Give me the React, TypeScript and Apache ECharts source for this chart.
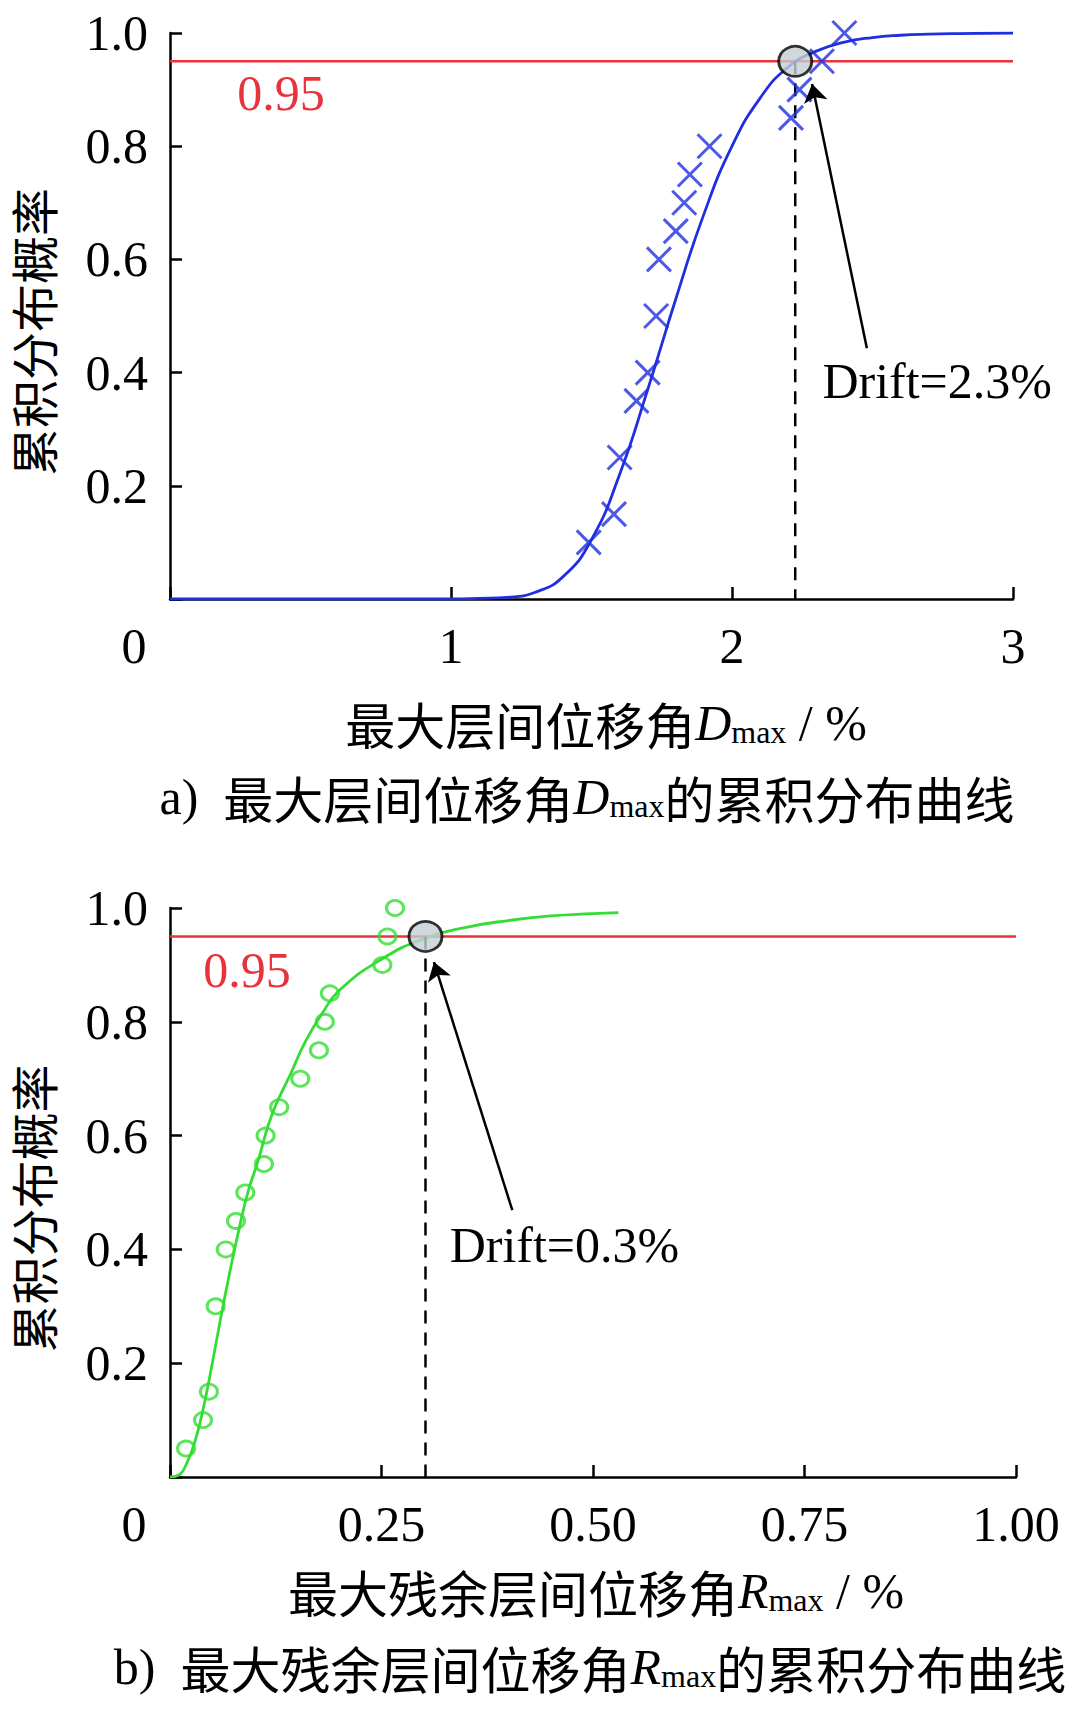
import React, { useEffect, useRef } from 'react';
import * as echarts from 'echarts';

// ---------- data ----------
// panel a: maximum inter-storey drift D_max (%)
const driftMarkX = [1.49, 1.58, 1.60, 1.66, 1.70, 1.73, 1.74, 1.80, 1.83, 1.85, 1.92, 2.21, 2.24, 2.32, 2.40];
const driftMarkY = [0.10, 0.15, 0.25, 0.35, 0.40, 0.50, 0.60, 0.65, 0.70, 0.75, 0.80, 0.85, 0.90, 0.95, 1.00];
const driftFitX = [0, 1.0, 1.1, 1.2, 1.3, 1.4, 1.5, 1.6, 1.7, 1.8, 1.9, 2.0, 2.1, 2.2, 2.3, 2.4, 2.5, 2.6, 2.7, 2.8, 3.0];
const driftFitY = [0, 0, 0.001, 0.003, 0.012, 0.04, 0.105, 0.22, 0.37, 0.53, 0.68, 0.80, 0.885, 0.94, 0.968, 0.984, 0.992, 0.996, 0.998, 0.999, 1.0];
const driftPoint = [2.225, 0.95];
const driftArrowFrom = [2.48, 0.443];
const driftArrowTo = [2.285, 0.91];
const driftLabelAt = [2.32, 0.385];
const driftLabel = 'Drift=2.3%';
const driftLevelLabelAt = [0.395, 0.894];
const xTicksA = ['0', '1', '2', '3'];

// panel b: maximum residual drift R_max (%)
const resMarkX = [0.019, 0.039, 0.046, 0.054, 0.066, 0.078, 0.089, 0.111, 0.113, 0.129, 0.154, 0.176, 0.183, 0.189, 0.251, 0.257, 0.266];
const resMarkY = [0.05, 0.10, 0.15, 0.30, 0.40, 0.45, 0.50, 0.55, 0.60, 0.65, 0.70, 0.75, 0.80, 0.85, 0.90, 0.95, 1.00];
const resFitX = [0, 0.010, 0.020, 0.030, 0.040, 0.050, 0.060, 0.070, 0.080, 0.092, 0.104, 0.120, 0.143, 0.160, 0.180, 0.200, 0.250, 0.302, 0.350, 0.400, 0.450, 0.500, 0.530];
const resFitY = [0, 0.003, 0.025, 0.065, 0.125, 0.200, 0.280, 0.355, 0.425, 0.500, 0.555, 0.635, 0.710, 0.765, 0.815, 0.855, 0.910, 0.947, 0.966, 0.978, 0.986, 0.990, 0.992];
const resPoint = [0.302, 0.95];
const resArrowFrom = [0.4046, 0.469];
const resArrowTo = [0.312, 0.905];
const resLabelAt = [0.33, 0.408];
const resLabel = 'Drift=0.3%';
const resLevelLabelAt = [0.091, 0.891];
const xTicksB = ['0', '0.25', '0.50', '0.75', '1.00'];

const level = 0.95;
const levelLabel = '0.95';
const yTicks = ['0', '0.2', '0.4', '0.6', '0.8', '1.0'];
const yName = '累积分布概率';

// ---------- styles ----------
const SERIF = '"Liberation Serif", "Times New Roman", serif';
const CJK = '"Noto Sans CJK SC", sans-serif';
const RED = '#e8323c';
const BLUE = '#1f2fe0';
const GREEN = '#33dd33';
const FS = 50;

const zip = (xs: number[], ys: number[]) => xs.map((x, i) => [x, ys[i]]);

const richStyles = {
  c: { fontFamily: CJK, fontSize: 50, color: '#000' },
  i: { fontFamily: SERIF, fontStyle: 'italic', fontSize: FS, color: '#000' },
  s: { fontFamily: SERIF, fontSize: 32, color: '#000', verticalAlign: 'bottom' },
  t: { fontFamily: SERIF, fontSize: FS, color: '#000' },
};

function axisPair(gridIndex: number, xMax: number, xInterval: number, xLabels: string[]) {
  const axisLine = { show: true, lineStyle: { color: '#000', width: 2.5 } };
  const axisTick = { show: true, inside: true, length: 12, lineStyle: { color: '#000', width: 2.5 } };
  const xAxis = {
    type: 'value',
    gridIndex,
    min: 0,
    max: xMax,
    interval: xInterval,
    axisLine,
    axisTick,
    splitLine: { show: false },
    axisLabel: {
      margin: 22,
      fontFamily: SERIF,
      fontSize: FS,
      color: '#000',
      formatter: (v: number) => {
        const idx = Math.round(v / xInterval);
        const t = xLabels[idx] ?? '';
        return idx === 0 ? '{z|' + t + '}' : t;
      },
      rich: { z: { fontFamily: SERIF, fontSize: FS, color: '#000', padding: [0, 72, 0, 0] } },
    },
  };
  const yAxis = {
    type: 'value',
    gridIndex,
    min: 0,
    max: 1,
    interval: 0.2,
    name: yName,
    nameLocation: 'middle',
    nameRotate: 90,
    nameGap: 114,
    nameTextStyle: {
      fontFamily: CJK,
      fontSize: 48,
      lineHeight: 48,
      color: '#000',
      padding: [0, 32, 0, 0],
    },
    axisLine,
    axisTick,
    splitLine: { show: false },
    axisLabel: {
      margin: 22,
      fontFamily: SERIF,
      fontSize: FS,
      color: '#000',
      formatter: (v: number) => {
        const idx = Math.round(v / 0.2);
        return idx === 0 ? '' : yTicks[idx];
      },
    },
  };
  return { xAxis, yAxis };
}

function panelSeries(
  idx: number,
  xMax: number,
  fit: number[][],
  marks: number[][],
  markSymbol: string,
  markSize: number | number[],
  color: string,
  point: number[],
  arrowFrom: number[],
  arrowTo: number[],
  labelAt: number[],
  label: string,
  levelAt: number[],
) {
  return [
    {
      type: 'line',
      xAxisIndex: idx,
      yAxisIndex: idx,
      data: [[0, level], [xMax, level]],
      symbol: 'none',
      lineStyle: { color: RED, width: 2.5 },
      z: 2,
      silent: true,
      markPoint: {
        symbol: 'circle',
        symbolSize: 1,
        itemStyle: { color: 'rgba(0,0,0,0)' },
        silent: true,
        data: [
          {
            coord: levelAt,
            label: { show: true, position: 'inside', formatter: levelLabel, fontFamily: SERIF, fontSize: FS, color: RED },
          },
          {
            coord: labelAt,
            label: { show: true, position: 'right', distance: 0, formatter: label, fontFamily: SERIF, fontSize: FS, color: '#000' },
          },
        ],
      },
    },
    {
      type: 'line',
      xAxisIndex: idx,
      yAxisIndex: idx,
      data: fit,
      symbol: 'none',
      smooth: 0.5,
      lineStyle: { color, width: 2.8 },
      z: 3,
      silent: true,
    },
    {
      type: 'scatter',
      xAxisIndex: idx,
      yAxisIndex: idx,
      data: marks,
      symbol: markSymbol,
      symbolSize: markSize,
      itemStyle: { color: 'rgba(0,0,0,0)', borderColor: color, borderWidth: 3 },
      z: 4,
      silent: true,
    },
    {
      type: 'line',
      xAxisIndex: idx,
      yAxisIndex: idx,
      data: [[point[0], point[1]], [point[0], 0]],
      symbol: 'none',
      lineStyle: { color: '#000', width: 2.5, type: [13, 9] },
      z: 3,
      silent: true,
      markLine: {
        silent: true,
        symbol: ['none', 'arrow'],
        symbolSize: 18,
        lineStyle: { color: '#000', width: 2.5, type: 'solid' },
        label: { show: false },
        data: [[{ coord: arrowFrom }, { coord: arrowTo }]],
      },
    },
    {
      type: 'scatter',
      xAxisIndex: idx,
      yAxisIndex: idx,
      data: [point],
      symbol: 'circle',
      symbolSize: [33, 30],
      itemStyle: { color: '#c3ced5', borderColor: '#000', borderWidth: 2.8 },
      z: 6,
      silent: true,
    },
  ];
}

export default function App() {
  const ref = useRef<HTMLDivElement>(null);

  useEffect(() => {
    document.body.style.margin = '0';
    if (!ref.current) return;
    const chart = echarts.init(ref.current, null, { renderer: 'svg' });

    const a = axisPair(0, 3, 1, xTicksA);
    const b = axisPair(1, 1, 0.25, xTicksB);

    const option = {
      animation: false,
      backgroundColor: '#fff',
      grid: [
        { left: 169, top: 33, width: 844, height: 566 },
        { left: 169, top: 908, width: 847, height: 569 },
      ],
      xAxis: [a.xAxis, b.xAxis],
      yAxis: [a.yAxis, b.yAxis],
      series: [
        ...panelSeries(
          0, 3, zip(driftFitX, driftFitY), zip(driftMarkX, driftMarkY),
          'path://M0,0L10,10M10,0L0,10', 24, BLUE,
          driftPoint, driftArrowFrom, driftArrowTo, driftLabelAt, driftLabel, driftLevelLabelAt,
        ),
        ...panelSeries(
          1, 1, zip(resFitX, resFitY), zip(resMarkX, resMarkY),
          'circle', [17, 15], GREEN,
          resPoint, resArrowFrom, resArrowTo, resLabelAt, resLabel, resLevelLabelAt,
        ),
      ],
      graphic: [
        {
          type: 'text', x: 606, y: 723,
          style: { text: '{c|最大层间位移角}{i|D}{s|max}{t| / %}', rich: richStyles, fill: '#000', align: 'center', verticalAlign: 'middle' },
        },
        {
          type: 'text', x: 587, y: 797,
          style: { text: '{t|a)  }{c|最大层间位移角}{i|D}{s|max}{c|的累积分布曲线}', rich: richStyles, fill: '#000', align: 'center', verticalAlign: 'middle' },
        },
        {
          type: 'text', x: 596, y: 1591,
          style: { text: '{c|最大残余层间位移角}{i|R}{s|max}{t| / %}', rich: richStyles, fill: '#000', align: 'center', verticalAlign: 'middle' },
        },
        {
          type: 'text', x: 590, y: 1667,
          style: { text: '{t|b)  }{c|最大残余层间位移角}{i|R}{s|max}{c|的累积分布曲线}', rich: richStyles, fill: '#000', align: 'center', verticalAlign: 'middle' },
        },
      ],
    };

    chart.setOption(option as any);
    return () => chart.dispose();
  }, []);

  return <div ref={ref} style={{ width: 1080, height: 1709 }} />;
}
